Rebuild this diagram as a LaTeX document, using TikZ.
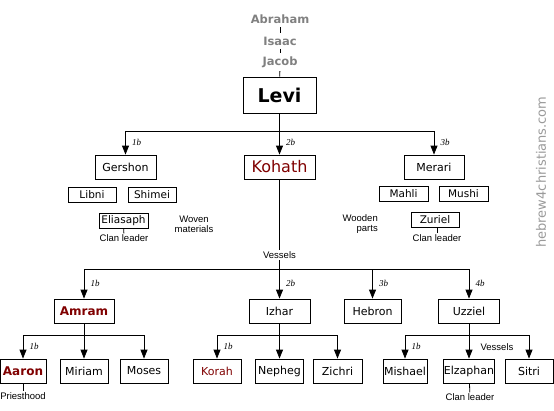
\documentclass[tikz,border=0pt]{standalone}
\usepackage{fontspec}
\setmainfont{DejaVu Sans}
\newfontfamily\notefont{Liberation Sans}
\newfontfamily\genfont{Liberation Serif}
\usepackage{xcolor}
\definecolor{clanred}{HTML}{800000}
\definecolor{fathergray}{HTML}{808080}
\definecolor{markgray}{HTML}{9A9A9A}
\usetikzlibrary{arrows.meta, positioning}

\begin{document}
\begin{tikzpicture}[
      x=1pt, y=-1pt,
      box/.style={draw, line width=0.8pt, fill=white, inner sep=0pt,
                  minimum width=48pt, minimum height=24pt,
                  font=\fontsize{11}{13}\selectfont},
      smallbox/.style={box, minimum height=15pt, font=\fontsize{10.5}{12}\selectfont},
      redbox/.style={box, text=clanred},
      patriarch/.style={font=\fontsize{11.5}{12}\selectfont\bfseries,
                        text=fathergray, inner sep=3.5pt},
      note/.style={font=\notefont\fontsize{9.5}{10}\selectfont, inner sep=1pt},
      gen/.style={right, xshift=3pt, font=\genfont\itshape\fontsize{9}{10}\selectfont},
      wire/.style={line width=0.8pt},
      link/.style={wire, -{Triangle[width=7pt,length=9pt]}}
    ]
    \useasboundingbox (0,0) rectangle (554,410);

    \node[patriarch] (abraham) at (280,19) {Abraham};
    \node[patriarch] (isaac) at (280,41) {Isaac};
    \node[patriarch] (jacob) at (280,62) {Jacob};
    \node[box, minimum width=73pt, minimum height=36pt,
          font=\fontsize{19}{21}\selectfont\bfseries] (levi) at (279.5,95) {Levi};

    \draw[wire] (abraham) -- (isaac);
    \draw[wire] (isaac) -- (jacob);
    \draw[wire] (jacob) -- (levi);

    \node[box, minimum width=61pt] (gershon) at (125.5,167) {Gershon};
    \node[redbox, minimum width=71pt, font=\fontsize{16}{18}\selectfont] (kohath) at (279.5,167) {Kohath};
    \node[box, minimum width=60pt] (merari) at (434,167) {Merari};

    \coordinate (b1) at (279.5,131);
    \draw[wire] (levi) -- (b1);
    \draw[wire] (gershon |- b1) -- (merari |- b1);
    \draw[link] (gershon |- b1) -- node[gen]{1b} (gershon);
    \draw[link] (b1) -- node[gen]{2b} (kohath);
    \draw[link] (merari |- b1) -- node[gen]{3b} (merari);

    \node[smallbox] (libni) at (92,194.5) {Libni};
    \node[smallbox] (shimei) at (152,194.5) {Shimei};
    \node[smallbox, minimum width=49pt] (eliasaph) at (123.5,220.5) {Eliasaph};
    \node[note] (clan1) at (124,238) {Clan leader};
    \draw[wire] (eliasaph) -- (clan1);
    \node[note, align=center] (woven) at (194,224) {Woven\\materials};

    \node[smallbox, minimum width=49pt] (mahli) at (403.5,193.5) {Mahli};
    \node[smallbox, minimum width=49pt] (mushi) at (463.5,193.5) {Mushi};
    \node[smallbox] (zuriel) at (435,219.5) {Zuriel};
    \node[note] (clan2) at (437,238) {Clan leader};
    \draw[wire] (zuriel) -- (clan2 |- zuriel.south) -- (clan2);
    \node[note, align=right, anchor=east] (wooden) at (379,224) {Wooden\\parts};

    \node[box, minimum width=60pt, text=clanred, font=\fontsize{12}{14}\selectfont\bfseries] (amram) at (84,311) {Amram};
    \node[box, minimum width=61pt] (izhar) at (279.5,311) {Izhar};
    \node[box, minimum width=57pt] (hebron) at (372.5,311) {Hebron};
    \node[box, minimum width=61pt] (uzziel) at (469,311) {Uzziel};

    \coordinate (b2) at (279.5,269);
    \draw[wire] (kohath) -- (b2);
    \node[note, fill=white, inner sep=2pt] (vessels1) at (279.5,255) {Vessels};
    \draw[wire] (amram |- b2) -- (uzziel |- b2);
    \draw[link] (amram |- b2) -- node[gen]{1b} (amram);
    \draw[link] (b2) -- node[gen]{2b} (izhar);
    \draw[link] (hebron |- b2) -- node[gen]{3b} (hebron);
    \draw[link] (uzziel |- b2) -- node[gen]{4b} (uzziel);

    \node[box, minimum width=46pt, text=clanred, font=\fontsize{12}{14}\selectfont\bfseries] (aaron) at (23,371) {Aaron};
    \node[box] (miriam) at (84,371) {Miriam};
    \node[box] (moses) at (144,371) {Moses};
    \node[redbox] (korah) at (217,371) {Korah};
    \node[box] (nepheg) at (279.5,371) {Nepheg};
    \node[box, minimum width=49pt] (zichri) at (337.5,371) {Zichri};
    \node[box, minimum width=44pt] (mishael) at (405,371) {Mishael};
    \node[box, minimum width=51pt] (elzaphan) at (469,371) {Elzaphan};
    \node[box] (sitri) at (529,371) {Sitri};

    \coordinate (b3) at (0,335);
    \draw[wire] (amram) -- (amram |- b3);
    \draw[wire] (aaron |- b3) -- (moses |- b3);
    \draw[link] (aaron |- b3) -- node[gen]{1b} (aaron);
    \draw[link] (miriam |- b3) -- (miriam);
    \draw[link] (moses |- b3) -- (moses);

    \draw[wire] (izhar) -- (izhar |- b3);
    \draw[wire] (korah |- b3) -- (zichri |- b3);
    \draw[link] (korah |- b3) -- node[gen]{1b} (korah);
    \draw[link] (nepheg |- b3) -- (nepheg);
    \draw[link] (zichri |- b3) -- (zichri);

    \draw[wire] (uzziel) -- (uzziel |- b3);
    \draw[wire] (mishael |- b3) -- (sitri |- b3);
    \draw[link] (mishael |- b3) -- node[gen]{1b} (mishael);
    \draw[link] (elzaphan |- b3) -- (elzaphan);
    \draw[link] (sitri |- b3) -- (sitri);
    \node[note] (vessels2) at (497,347) {Vessels};

    \node[note] (priesthood) at (23,396) {Priesthood};
    \draw[wire] (aaron) -- (priesthood);
    \node[note] (clan3) at (470,397) {Clan leader};
    \draw[wire] (elzaphan) -- (clan3);

    \node[rotate=90, text=markgray, font=\fontsize{13}{14}\selectfont] (site) at (541,172) {hebrew4christians.com};
  \end{tikzpicture}
\end{document}
